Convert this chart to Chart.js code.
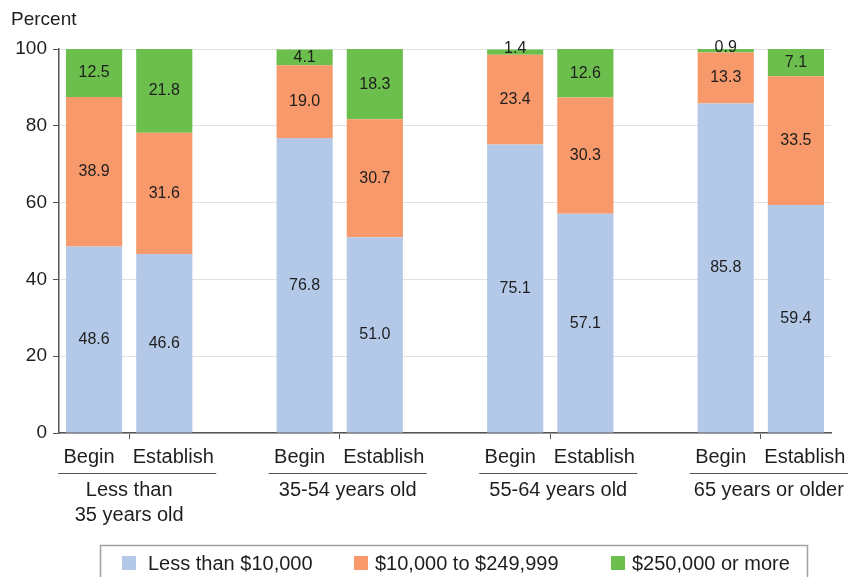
<!DOCTYPE html>
<html>
<head>
<meta charset="utf-8">
<script src="https://cdn.jsdelivr.net/npm/chart.js@4.4.1/dist/chart.umd.min.js"></script>
<style>
  html, body { margin: 0; padding: 0; background: #fff; }
  #wrap { width: 862px; height: 577px; position: relative; }
</style>
</head>
<body>
<div id="wrap"><canvas id="incomeChart"></canvas></div>
<script>
  // Bars inside each age group
  const barLabels = ['Begin', 'Establish'];
  // Age groups (multi-line labels as arrays)
  const groupLabels = [['Less than', '35 years old'], ['35-54 years old'], ['55-64 years old'], ['65 years or older']];
  const seriesNames = ['Less than $10,000', '$10,000 to $249,999', '$250,000 or more'];
  const seriesColors = ['#b4c9e8', '#f7996a', '#6cbf4c'];

  // Values per bar, in order: group1 Begin, group1 Establish, group2 Begin, ...
  const under10k = [48.6, 46.6, 76.8, 51.0, 75.1, 57.1, 85.8, 59.4];
  const mid10kTo250k = [38.9, 31.6, 19.0, 30.7, 23.4, 30.3, 13.3, 33.5];
  const over250k = [12.5, 21.8, 4.1, 18.3, 1.4, 12.6, 0.9, 7.1];

  const yTicks = [0, 20, 40, 60, 80, 100];

  const FONT = '"Liberation Sans", Arial, Helvetica, sans-serif';
  const TEXT = '#1e1e1e';

  // Insert an empty slot between groups so bars pair up
  function withGaps(arr) {
    const out = [];
    arr.forEach((v, i) => {
      out.push(v);
      if (i % barLabels.length === barLabels.length - 1 && i < arr.length - 1) out.push(null);
    });
    return out;
  }

  const categories = withGaps(groupLabels.flatMap(() => barLabels)).map(v => v === null ? '' : v);
  const seriesData = [under10k, mid10kTo250k, over250k].map(withGaps);

  // Draw the value in the middle of each segment
  const segmentLabels = {
    id: 'segmentLabels',
    afterDatasetsDraw(chart) {
      const ctx = chart.ctx;
      ctx.save();
      ctx.font = '16px ' + FONT;
      ctx.fillStyle = TEXT;
      ctx.textAlign = 'center';
      ctx.textBaseline = 'middle';
      chart.data.datasets.forEach((ds, di) => {
        const meta = chart.getDatasetMeta(di);
        meta.data.forEach((bar, i) => {
          const v = ds.data[i];
          if (v === null || v === undefined) return;
          const p = bar.getProps(['x', 'y', 'base'], true);
          let y = (p.y + p.base) / 2;
          if (v < 2) y = p.y - 1; // tiny slices: label sits on the bar top
          ctx.fillText(v.toFixed(1), p.x, y);
        });
      });
      ctx.restore();
    }
  };

  // Title, bar labels, group brackets/labels and boxed legend
  const decorations = {
    id: 'decorations',
    afterDraw(chart) {
      const ctx = chart.ctx;
      const xs = chart.scales.x;
      ctx.save();
      ctx.fillStyle = TEXT;
      ctx.font = '19px ' + FONT;
      ctx.textAlign = 'left';
      ctx.textBaseline = 'middle';
      ctx.fillText('Percent', 11, 20);

      // bar labels, nudged apart like the original
      const nudge = [-5, 9];
      ctx.font = '20px ' + FONT;
      ctx.textAlign = 'center';
      categories.forEach((lab, i) => {
        if (!lab) return;
        const k = barLabels.indexOf(lab);
        ctx.fillText(lab, xs.getPixelForValue(i) + nudge[k], 457);
      });

      // group lines and labels
      const step = barLabels.length + 1;
      groupLabels.forEach((lab, g) => {
        const x0 = xs.getPixelForValue(g * step);
        const x1 = xs.getPixelForValue(g * step + barLabels.length - 1);
        const left = x0 - 36, right = x1 + 52;
        ctx.strokeStyle = '#555';
        ctx.lineWidth = 1;
        ctx.beginPath();
        ctx.moveTo(left, 473.5);
        ctx.lineTo(right, 473.5);
        ctx.stroke();
        const cx = g === 0 ? (x0 + x1) / 2 : (left + right) / 2;
        lab.forEach((line, li) => ctx.fillText(line, cx, 490 + li * 25));
      });

      // legend
      ctx.strokeStyle = '#a0a0a0';
      ctx.lineWidth = 1.5;
      ctx.strokeRect(100.5, 545.5, 707, 60);
      const squareX = [122, 354, 611];
      const textX = [148, 375, 632];
      ctx.textAlign = 'left';
      seriesNames.forEach((name, i) => {
        ctx.fillStyle = seriesColors[i];
        ctx.fillRect(squareX[i], 556, 14, 14);
        ctx.fillStyle = TEXT;
        ctx.fillText(name, textX[i], 564);
      });
      ctx.restore();
    }
  };

  const tickIdx = barLabels.length - 1;
  new Chart(document.getElementById('incomeChart'), {
    type: 'bar',
    data: {
      labels: categories,
      datasets: seriesNames.map((name, i) => ({
        label: name,
        data: seriesData[i],
        backgroundColor: seriesColors[i],
        borderWidth: 0,
        categoryPercentage: 1,
        barPercentage: 0.8
      }))
    },
    options: {
      responsive: true,
      maintainAspectRatio: false,
      animation: false,
      layout: { padding: { top: 49, right: 31, bottom: 0, left: 14 } },
      plugins: {
        legend: { display: false },
        tooltip: { enabled: false }
      },
      scales: {
        x: {
          stacked: true,
          offset: true,
          afterFit(scale) { scale.height = 144; },
          grid: {
            offset: true,
            drawOnChartArea: false,
            tickLength: 6,
            tickColor: (c) => (c.index % (barLabels.length + 1) === tickIdx ? '#555' : 'rgba(0,0,0,0)'),
            lineWidth: 1
          },
          border: { color: '#555', width: 1.5 },
          ticks: {
            // labels drawn by the decorations plugin
            color: 'rgba(0,0,0,0)',
            font: { family: FONT, size: 20 },
            padding: 7,
            autoSkip: false,
            maxRotation: 0
          }
        },
        y: {
          stacked: true,
          min: 0,
          max: 100,
          afterFit(scale) { scale.width = 45; },
          afterBuildTicks(scale) { scale.ticks = yTicks.map(v => ({ value: v })); },
          grid: {
            color: '#e2e2e2',
            tickColor: '#555',
            tickLength: 6,
            lineWidth: 1
          },
          border: { color: '#555', width: 1.5 },
          ticks: {
            color: TEXT,
            font: { family: FONT, size: 19 },
            padding: 6
          }
        }
      }
    },
    plugins: [segmentLabels, decorations]
  });
</script>
</body>
</html>
